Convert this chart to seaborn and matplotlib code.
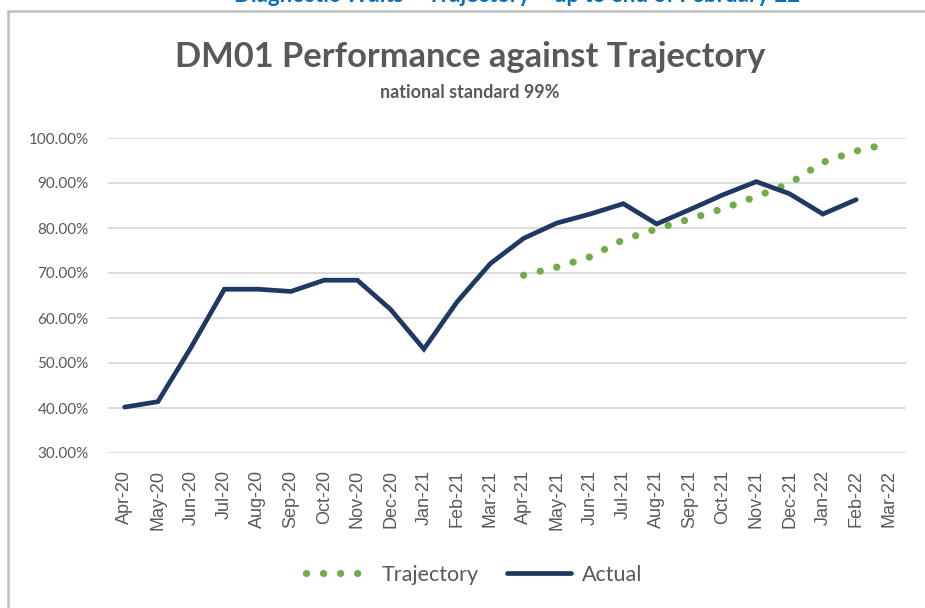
import matplotlib
matplotlib.use("Agg")
import matplotlib.pyplot as plt
import numpy as np
import pandas as pd
import seaborn as sns
from matplotlib.lines import Line2D
from matplotlib.ticker import PercentFormatter

# ---- data ----
months = ["Apr-20", "May-20", "Jun-20", "Jul-20", "Aug-20", "Sep-20", "Oct-20",
          "Nov-20", "Dec-20", "Jan-21", "Feb-21", "Mar-21", "Apr-21", "May-21",
          "Jun-21", "Jul-21", "Aug-21", "Sep-21", "Oct-21", "Nov-21", "Dec-21",
          "Jan-22", "Feb-22", "Mar-22"]
actual = [40.2, 41.4, 53.5, 66.4, 66.4, 65.9, 68.4, 68.4, 61.9, 53.1, 63.6, 72.1,
          77.7, 81.1, 83.1, 85.4, 80.9, 84.1, 87.4, 90.3, 87.6, 83.1, 86.3, np.nan]
trajectory = [np.nan] * 12 + [69.5, 71.3, 73.6, 77.4, 79.8, 82.0, 84.3, 87.0,
                              89.9, 94.6, 97.1, 98.8]
yticks = [30, 40, 50, 60, 70, 80, 90, 100]

df = pd.DataFrame({"pos": np.arange(len(months)), "month": months,
                   "Actual": actual, "Trajectory": trajectory})

GREY = "#595959"
NAVY = "#203864"
GREEN = "#70AD47"

sns.set_theme(style="white")
plt.rcParams["font.family"] = ["Lato", "DejaVu Sans"]

fig = plt.figure(figsize=(9.25, 6.08), dpi=100)
ax = fig.add_axes([108 / 925, 1 - 453 / 608, (906 - 108) / 925, (453 - 138) / 608])

sns.lineplot(data=df, x="pos", y="Trajectory", ax=ax, color=GREEN, linewidth=5.2,
             linestyle=(0, (0.01, 2.35)), dash_capstyle="round", label="Trajectory")
sns.lineplot(data=df, x="pos", y="Actual", ax=ax, color=NAVY, linewidth=3.4,
             solid_joinstyle="miter", label="Actual")

ax.set_xlim(-0.5, len(months) - 0.5)
ax.set_ylim(30, 100)
ax.set_yticks(yticks)
ax.yaxis.set_major_formatter(PercentFormatter(decimals=2))
ax.set_xticks(df["pos"])
ax.set_xticklabels(months, rotation=90, fontsize=13, color=GREY,
                   fontfamily="Liberation Sans")
ax.tick_params(axis="y", labelsize=11, labelcolor=GREY, length=0, pad=14)
ax.tick_params(axis="x", length=0, pad=12)
ax.set_xlabel("")
ax.set_ylabel("")
ax.yaxis.grid(True, color="#D9D9D9", linewidth=1.3)
ax.set_axisbelow(True)
sns.despine(ax=ax, left=True, bottom=True)

ax.legend(loc="center", bbox_to_anchor=(0.513, 1 - 575 / 608),
          bbox_transform=fig.transFigure, ncol=2, frameon=False, fontsize=15.5,
          handlelength=3.0, columnspacing=1.3, handletextpad=0.5,
          labelcolor=GREY)

fig.text(0.508, 1 - 57 / 608, "DM01 Performance against Trajectory", ha="center",
         va="center", fontsize=24.8, fontweight="bold", color=GREY)
fig.text(0.508, 1 - 93 / 608, "national standard 99%", ha="center", va="center",
         fontsize=13, fontweight="bold", color=GREY)

# clipped heading of the page above the chart
fig.text(800 / 925, 1 - 2 / 608, "Diagnostic Waits \u2013 Trajectory \u2013 up to end of February 22",
         ha="right", va="baseline", fontsize=16, fontweight="bold", color="#0070C0")

# chart frame
fig.add_artist(Line2D([8 / 925, 1], [1 - 11 / 608] * 2, color="#BFBFBF", lw=1.8))
fig.add_artist(Line2D([8 / 925] * 2, [0, 1 - 11 / 608], color="#BFBFBF", lw=1.8))

fig.savefig("out.png", dpi=100)
